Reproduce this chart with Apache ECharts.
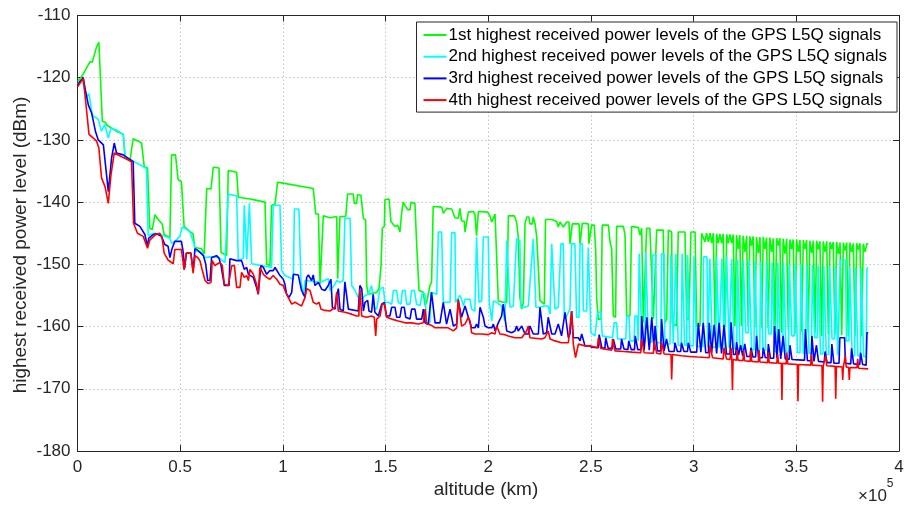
<!DOCTYPE html>
<html><head><meta charset="utf-8">
<script src="https://cdn.jsdelivr.net/npm/echarts@6/dist/echarts.min.js"></script>
<style>html,body{margin:0;padding:0;background:#fff}#c{width:907px;height:510px}</style>
</head><body><div id="c"></div>
<script>
// altitude in thousands of km, power in dBm
const seriesNames = [
  '1st highest received power levels of the GPS L5Q signals',
  '2nd highest received power levels of the GPS L5Q signals',
  '3rd highest received power levels of the GPS L5Q signals',
  '4th highest received power levels of the GPS L5Q signals'
];
const seriesColors = ['#00ff00', '#00ffff', '#0000ff', '#ff0000'];
const xTickStep = 50;   // thousand km (0.5 x 10^5 km)
const yTickStep = 10;   // dBm

const green = [
[0.1,-120.6],[2.3,-119.7],[6.1,-117.4],[7.2,-117.5],[9.3,-115.0],[10.4,-114.3],[12.1,-127.0],[13.7,-127.2],[14.2,-127.6],[15.0,-127.9],[19.5,-128.7],[22.3,-129.1],[23.1,-132.9],[25.5,-133.4],[27.1,-129.8],[29.6,-130.2],[31.2,-130.5],[32.5,-134.3],[34.1,-134.5],[35.2,-144.2],[36.4,-144.4],[37.7,-142.0],[39.3,-142.8],[41.2,-143.5],[42.2,-145.2],[45.0,-145.7],[45.8,-132.4],[47.7,-132.4],[49.0,-136.4],[50.6,-136.7],[51.9,-143.9],[54.7,-144.7],[56.3,-145.1],[57.1,-147.3],
[60.4,-147.5],[61.7,-148.3],[62.9,-137.8],[65.0,-137.9],[66.1,-134.4],[68.9,-134.5],[69.9,-148.1],[72.6,-148.6],[73.4,-134.9],[77.5,-135.2],[78.3,-139.2],[84.0,-139.5],[85.6,-139.6],[91.3,-140.0],[92.1,-150.0],[93.7,-150.2],[94.5,-140.5],[96.2,-140.3],[97.4,-136.8],[99.4,-136.9],[114.8,-137.8],[116.0,-141.9],[117.3,-141.9],[118.1,-153.2],[118.9,-153.0],[119.7,-142.2],[122.9,-142.5],
[126.2,-142.3],[126.7,-152.3],[127.3,-152.1],[127.8,-142.3],[130.6,-142.3],[131.5,-138.7],[134.3,-138.7],[134.8,-140.2],[135.9,-140.2],[136.4,-138.8],[138.0,-138.9],[139.2,-142.6],[140.3,-142.9],[140.8,-153.4],[141.6,-154.8],[142.4,-155.0],[145.7,-154.5],[146.8,-153.9],[147.8,-150.2],[148.4,-144.2],[149.4,-143.9],[149.7,-139.6],[151.7,-139.5],[152.6,-143.1],[154.6,-143.9],[155.9,-143.7],[157.0,-144.8],[157.8,-141.8],[158.6,-140.0],[159.5,-139.9],[160.7,-141.2],[161.9,-141.2],[162.4,-140.0],[164.3,-140.2],[165.1,-146.4],[166.3,-154.2],[168.4,-154.5],[169.2,-156.6],[170.0,-156.1],[171.6,-153.4],[172.4,-152.9],[173.2,-140.7],[177.3,-140.8],[178.1,-141.8],[178.9,-141.9],[179.7,-141.0],[182.2,-141.1],[183.0,-141.2],[183.8,-142.5],[185.4,-142.6],[186.2,-141.0],
[187.0,-143.0],[188.3,-143.1],[188.7,-144.8],[189.5,-145.1],[190.3,-141.6],[192.7,-141.5],[193.5,-141.9],[194.3,-145.4],[194.8,-145.1],[195.2,-141.5],[199.7,-141.6],[200.8,-142.2],[201.7,-143.2],[202.5,-143.2],[203.3,-141.9],[204.1,-142.0],[204.9,-155.9],[207.3,-156.1],[209.0,-156.1],[209.8,-142.2],[212.7,-142.2],[213.8,-143.2],[214.6,-145.6],[215.4,-155.3],[216.3,-157.2],[217.1,-156.1],[217.9,-143.5],[218.7,-142.4],[219.8,-142.4],[220.3,-143.5],[221.5,-143.5],[221.9,-142.4],[222.8,-143.5],[223.6,-145.6],[224.4,-145.6],[225.2,-155.9],[226.3,-156.1],[227.3,-156.4],[227.9,-142.8],[230.9,-142.8],[231.7,-143.0],[233.3,-143.1],[234.1,-144.0],[234.9,-143.2],[235.7,-143.1],[236.6,-144.0],[237.4,-144.1],[238.2,-143.2],[239.3,-143.2],[239.8,-146.7],[240.6,-146.7],[240.9,-143.5],[244.2,-143.5],[244.7,-146.7],[245.5,-146.7],[245.8,-143.4],[248.7,-143.5],[249.0,-146.7],
[250.3,-143.7],[251.6,-143.7],[252.3,-147.5],[252.8,-155.6],[253.6,-158.8],[254.9,-158.8],[255.5,-143.7],[258.5,-143.7],[259.3,-146.4],[260.1,-147.5],[260.9,-158.3],[262.0,-158.5],[262.5,-143.9],[265.8,-143.9],[266.6,-145.3],[267.4,-158.3],[269.0,-158.3],[269.8,-143.9],[273.1,-144.1],[273.9,-145.3],[274.7,-144.2],[275.5,-159.4],[276.3,-159.4],[277.1,-144.2],[278.7,-144.2],[279.6,-144.5],[280.4,-158.8],[281.2,-158.8],[282.0,-144.5],[285.2,-144.5],[286.0,-159.4],[286.9,-158.8],[287.7,-144.5],[289.3,-144.8],[289.6,-159.4],[291.7,-159.9],[292.5,-144.8],[295.8,-144.8],[296.6,-158.8],[297.7,-158.8],[298.7,-144.8],[300.7,-144.8],[301.5,-159.9],[303.1,-159.9],[303.9,-145.0],[305.5,-146.4],[306.3,-145.0],[307.2,-146.4],[308.0,-145.0],[308.8,-146.6],[309.6,-145.0],[310.4,-159.9],[311.2,-145.1],[312.0,-146.6],[312.8,-145.1],[313.6,-146.6],[314.4,-145.1],[315.3,-160.0],[316.1,-145.2],[316.9,-146.6],[317.7,-145.2],
[318.5,-146.6],[319.3,-145.2],[320.1,-159.9],[320.9,-145.3],[321.7,-147.5],[322.5,-145.3],[323.3,-159.9],[324.1,-145.4],[325.0,-148.0],[325.8,-145.4],[326.6,-160.0],[327.4,-145.5],[328.2,-147.0],[329.0,-145.5],[329.8,-160.2],[330.6,-145.6],[331.5,-148.2],[332.3,-145.6],[333.1,-160.2],[333.9,-145.6],[334.7,-147.5],[335.5,-145.7],[336.3,-160.3],[337.1,-145.7],[338.0,-148.0],[338.8,-145.8],[339.6,-160.4],[340.4,-145.8],[341.2,-147.0],[342.0,-145.8],[342.8,-161.0],[343.6,-145.9],[344.5,-148.3],[345.3,-145.9],[346.1,-160.6],[346.9,-146.0],[347.7,-147.5],[348.5,-146.0],[349.3,-161.2],[350.1,-146.0],[351.0,-148.0],[351.8,-146.1],[352.6,-160.8],[353.4,-146.1],[354.2,-147.5],[355.0,-146.1],[355.8,-160.9],[356.6,-146.2],[357.5,-148.2],[358.3,-146.2],[359.1,-161.0],[359.9,-146.2],[360.7,-147.6],[361.5,-146.3],[362.3,-161.5],[363.1,-146.3],[364.0,-148.0],[364.8,-146.3],[365.6,-161.2],[366.4,-146.4],[367.2,-147.5],[368.0,-146.4],[368.8,-161.3],[369.6,-146.4],[370.5,-148.3],[371.3,-146.5],[372.1,-161.4],[372.9,-146.5],[373.7,-147.8],[374.5,-146.5],[375.3,-161.5],[376.1,-146.5],[377.0,-148.0],[377.8,-146.6],[378.6,-161.5],[379.4,-146.6],[380.2,-147.6],[381.0,-146.6],[381.8,-161.6],[382.6,-146.7],[383.5,-148.0],[384.3,-146.7],[385.0,-146.7]
];

const cyan = [
[0.1,-121.0],[2.0,-120.2],[2.8,-119.9],[4.5,-123.0],[5.6,-122.6],[6.1,-122.5],[7.2,-126.0],[10.1,-126.7],[11.7,-128.6],[13.3,-127.5],[14.2,-127.5],[15.0,-129.7],[16.3,-128.1],[19.5,-128.5],[22.3,-129.2],[23.3,-132.8],[27.1,-133.4],[32.5,-134.4],[33.6,-134.6],[34.4,-145.3],[35.2,-145.6],[37.7,-145.0],[41.0,-145.3],[45.0,-145.8],[45.8,-146.6],[47.4,-146.3],[49.8,-145.5],[51.0,-144.0],[52.2,-144.2],[54.7,-144.7],[56.8,-146.8],
[57.2,-147.8],[60.4,-148.1],[62.1,-148.9],[64.5,-148.8],[68.6,-148.9],[71.8,-149.7],[72.6,-149.9],[73.4,-138.7],[77.5,-139.0],[78.3,-149.4],[80.7,-149.0],[81.2,-140.5],[81.9,-140.5],[82.4,-149.2],[83.2,-149.4],[83.7,-140.2],[84.5,-140.2],[84.8,-149.9],[89.7,-150.2],[94.5,-150.5],[95.3,-140.5],[98.6,-140.5],[99.4,-151.0],[101.0,-151.8],[105.1,-152.4],[105.6,-141.1],[107.8,-141.1],[108.8,-152.6],[110.0,-155.0],[110.8,-152.6],[118.1,-152.9],[122.1,-152.3],[122.9,-154.2],
[123.7,-153.9],[125.0,-153.4],[126.2,-152.6],[127.8,-152.9],[129.4,-152.6],[130.2,-142.6],[132.7,-142.6],[133.5,-153.4],[135.1,-154.2],[136.7,-155.3],[138.4,-155.6],[140.0,-155.0],[141.6,-154.8],[143.2,-153.4],[144.5,-156.9],[145.7,-157.2],[147.3,-153.9],[148.9,-153.7],[149.7,-156.1],[151.3,-156.1],[153.0,-156.4],[153.8,-154.2],[155.4,-154.2],[156.2,-156.1],[157.5,-156.4],[158.2,-154.2],[159.5,-154.2],[160.3,-156.4],[161.9,-156.4],[162.7,-154.2],[164.0,-154.2],[165.1,-156.4],[166.8,-156.6],[167.9,-154.5],[169.2,-154.8],[170.0,-159.6],[171.6,-159.4],[172.1,-154.5],[174.9,-154.8],[175.7,-144.8],[177.3,-144.8],[178.1,-156.1],[181.4,-156.1],[182.2,-144.9],[183.8,-144.9],[184.1,-156.1],[186.2,-155.0],
[187.0,-155.6],[187.9,-156.7],[188.7,-155.6],[191.1,-155.6],[191.9,-157.2],[193.5,-157.5],[194.3,-145.6],[195.2,-145.6],[195.5,-156.1],[196.8,-155.9],[197.6,-145.6],[200.0,-145.6],[200.5,-156.1],[201.7,-159.1],[202.5,-155.9],[204.1,-156.1],[204.9,-156.4],[206.5,-156.7],[207.3,-156.7],[208.1,-159.1],[209.0,-146.2],[209.8,-146.2],[210.6,-156.9],[212.2,-156.7],[213.0,-156.7],[213.8,-145.9],[215.4,-146.2],[215.9,-156.9],[217.9,-156.9],[219.5,-156.7],[220.3,-156.7],[221.9,-145.9],[222.8,-145.9],[223.2,-156.9],[225.2,-156.9],[226.8,-156.7],[229.2,-156.7],[230.1,-158.0],[230.9,-146.7],[231.7,-146.7],[232.5,-157.2],[234.1,-156.9],[235.4,-146.7],[236.6,-146.7],[237.0,-158.5],[238.2,-158.3],[239.8,-157.2],[240.6,-146.7],[242.2,-146.7],[243.0,-158.5],[244.2,-158.5],[244.7,-146.7],[245.8,-146.7],[246.3,-157.5],[247.9,-157.5],[248.7,-147.3],[249.5,-147.3],
[250.0,-161.0],[252.0,-161.5],[253.2,-157.7],[254.9,-157.7],[255.5,-161.5],[260.5,-161.8],[261.3,-159.4],[262.5,-159.4],[263.0,-162.0],[267.0,-162.0],[267.4,-158.3],[268.6,-158.3],[269.0,-162.3],[271.0,-162.3],[271.4,-158.3],[272.5,-158.3],[273.0,-162.3],[273.5,-148.3],[274.4,-148.3],[274.8,-162.3],[276.3,-162.5],[276.7,-148.0],[277.5,-148.0],[278.0,-162.5],[279.6,-162.5],[280.0,-148.5],[281.6,-148.5],[282.0,-162.6],[284.0,-162.6],[284.4,-148.3],[285.6,-148.3],[286.0,-162.8],[288.5,-162.8],[288.9,-148.5],[289.7,-148.5],[290.1,-162.8],[290.9,-162.8],[291.3,-148.3],[292.1,-148.3],[292.5,-163.0],[294.0,-163.0],[294.4,-148.3],[295.2,-148.3],[295.6,-163.0],[296.6,-163.0],[297.0,-148.5],[297.8,-148.5],[298.2,-163.1],[299.8,-163.1],[300.2,-148.8],[301.0,-148.8],[301.4,-163.2],[304.5,-163.2],[304.9,-148.8],[306.5,-148.8],[306.9,-163.3],[307.5,-163.3],[307.9,-149.1],[308.7,-149.1],[309.1,-163.3],[310.8,-163.3],[311.2,-148.8],[312.0,-148.8],[312.4,-163.4],[313.3,-163.4],[313.7,-149.1],[314.5,-149.1],[314.9,-163.4],[315.7,-163.4],[316.1,-148.8],[316.9,-148.8],[317.3,-163.4],
[317.7,-163.4],[318.5,-149.2],[319.3,-149.2],[319.7,-163.5],[321.0,-163.5],[321.4,-149.3],[322.2,-149.3],[322.6,-163.6],[323.8,-163.6],[324.2,-149.4],[325.0,-149.4],[325.4,-161.0],[326.6,-161.0],[327.0,-149.4],[327.8,-149.4],[328.2,-163.7],[329.4,-163.7],[329.8,-149.5],[330.6,-149.5],[331.0,-163.8],[332.2,-163.8],[332.6,-149.6],[333.4,-149.6],[333.8,-163.8],[335.0,-163.8],[335.4,-149.6],[336.2,-149.6],[336.6,-161.2],[337.8,-161.2],[338.2,-149.7],[339.0,-149.7],[339.4,-164.0],[340.6,-164.0],[341.0,-149.8],[341.8,-149.8],[342.2,-164.0],[343.4,-164.0],[343.8,-149.8],[344.6,-149.8],[345.0,-164.1],[346.2,-164.1],[346.6,-149.9],[347.4,-149.9],[347.8,-161.5],[349.0,-161.5],[349.4,-150.0],[350.2,-150.0],[350.6,-164.2],[351.8,-164.2],[352.2,-150.0],[353.0,-150.0],[353.4,-164.3],[354.6,-164.3],[355.0,-150.1],[355.8,-150.1],[356.2,-164.3],[357.4,-164.3],[357.8,-150.1],[358.6,-150.1],[359.0,-161.8],[360.2,-161.8],[360.6,-150.2],[361.4,-150.2],[361.8,-164.4],[363.0,-164.4],[363.4,-150.2],[364.2,-150.2],[364.6,-164.5],[365.8,-164.5],[366.2,-150.3],[367.0,-150.3],[367.4,-162.0],[368.6,-162.0],[369.0,-150.3],[369.8,-150.3],[370.2,-164.6],[371.0,-164.6],[371.4,-149.3],[374.0,-149.3],[374.4,-162.3],[375.6,-162.3],[376.0,-150.4],[376.8,-150.4],[377.2,-164.7],[378.4,-164.7],[378.8,-150.5],[379.6,-150.5],[380.0,-164.7],[381.2,-164.7],[381.6,-150.6],[382.4,-150.6],[382.8,-164.8],[384.0,-164.8],[384.4,-150.6],[385.0,-150.6]
];

const blue = [
[0.1,-121.2],[1.2,-120.6],[2.8,-120.0],[4.0,-122.3],[5.3,-124.4],[6.9,-125.7],[7.7,-126.0],[8.8,-128.7],[10.1,-130.0],[12.6,-130.8],[13.4,-131.1],[15.0,-138.3],[16.6,-132.9],[17.9,-130.5],[19.0,-132.1],[19.8,-132.1],[22.3,-132.4],[27.1,-133.5],[27.9,-143.4],[30.4,-143.9],[32.8,-145.2],[34.1,-147.1],[34.7,-145.8],[36.9,-145.2],[38.5,-145.1],[40.9,-145.5],[42.5,-146.8],[44.1,-147.1],[45.0,-148.9],[46.1,-147.4],[47.4,-146.3],[50.6,-146.3],[51.4,-147.9],[52.2,-150.6],[53.0,-148.2],[55.2,-148.2],[56.3,-151.1],
[57.2,-147.5],[58.8,-147.8],[61.3,-148.6],[62.4,-149.9],[63.4,-152.6],[64.5,-152.6],[65.3,-148.9],[67.7,-148.6],[68.9,-149.0],[69.9,-150.2],[70.5,-150.2],[71.5,-153.4],[73.8,-153.4],[74.2,-149.1],[77.5,-149.4],[79.9,-149.4],[81.2,-150.8],[82.4,-150.5],[83.2,-151.6],[84.0,-151.3],[85.6,-152.1],[87.2,-153.7],[88.0,-154.8],[89.3,-150.2],[90.5,-150.5],[92.1,-151.6],[93.7,-151.0],[95.3,-151.0],[96.2,-150.5],[97.0,-150.8],[98.6,-151.8],[100.2,-152.4],[101.0,-153.2],[101.8,-154.8],[103.0,-155.3],[104.3,-154.5],[105.1,-151.6],[107.5,-151.7],[109.1,-154.2],[110.8,-155.3],[111.6,-152.1],[112.4,-151.7],[114.0,-152.6],[114.8,-151.7],[115.6,-153.4],[117.3,-152.9],[118.9,-154.0],[120.5,-154.2],[122.1,-153.4],[122.9,-153.7],
[123.4,-152.4],[124.1,-156.9],[125.4,-157.2],[126.2,-155.0],[127.0,-153.9],[127.8,-157.2],[129.4,-157.5],[130.2,-152.8],[131.0,-152.9],[131.9,-157.2],[136.7,-157.5],[137.5,-153.4],[138.4,-153.9],[139.2,-157.5],[140.0,-156.1],[141.3,-155.8],[141.9,-157.5],[143.2,-157.7],[144.0,-154.8],[144.8,-157.7],[146.5,-158.3],[148.1,-156.4],[149.4,-156.1],[150.5,-158.3],[152.1,-158.3],[153.0,-156.9],[154.6,-156.9],[155.4,-158.5],[157.0,-158.5],[157.8,-156.9],[159.1,-156.9],[159.8,-158.5],[161.9,-158.8],[162.7,-157.2],[164.3,-157.2],[165.1,-158.8],[167.6,-158.8],[168.4,-157.2],[169.2,-159.4],[170.8,-159.6],[172.4,-154.5],[173.2,-154.8],[174.1,-159.4],[176.5,-159.4],[178.1,-156.1],[178.9,-156.4],[179.7,-159.6],[181.4,-157.2],[182.2,-157.2],[183.0,-159.9],[184.6,-159.6],[185.4,-155.8],[186.2,-156.1],
[187.0,-158.5],[188.7,-156.7],[189.5,-156.7],[190.3,-158.5],[191.1,-158.8],[191.9,-160.2],[192.7,-160.4],[193.5,-160.2],[194.3,-159.6],[195.2,-160.2],[196.0,-156.9],[196.8,-157.2],[197.6,-158.5],[198.4,-159.9],[200.0,-160.2],[201.7,-160.2],[202.5,-159.6],[203.3,-160.7],[204.9,-159.4],[205.7,-159.6],[206.5,-158.3],[207.3,-156.4],[208.1,-156.4],[209.0,-160.7],[211.4,-161.0],[213.0,-160.7],[213.8,-159.9],[214.6,-160.7],[216.3,-159.9],[217.1,-159.6],[217.9,-161.2],[219.5,-161.2],[220.3,-159.9],[221.1,-160.2],[221.9,-161.2],[224.4,-161.2],[225.2,-156.9],[226.0,-157.0],[226.8,-161.2],[228.4,-161.0],[229.2,-158.5],[230.1,-158.8],[230.9,-161.2],[232.5,-161.2],[234.1,-159.6],[234.9,-159.6],[235.7,-161.5],[237.4,-157.7],[238.2,-158.0],[239.0,-161.8],[239.8,-161.2],[240.6,-157.5],[241.4,-161.8],[243.9,-161.8],[244.7,-162.3],[245.5,-161.2],[246.3,-161.0],[247.1,-163.1],[248.7,-163.1],[249.5,-162.8],
[250.3,-163.3],[253.6,-163.4],[254.0,-161.3],[254.9,-161.3],[255.3,-163.4],[256.8,-163.5],[257.2,-161.8],[258.0,-161.8],[258.4,-163.5],[260.5,-163.5],[260.9,-162.0],[261.7,-162.0],[262.1,-163.6],[264.5,-163.6],[264.9,-162.0],[265.7,-162.0],[266.1,-163.6],[268.0,-163.7],[268.4,-162.3],[269.2,-162.3],[269.6,-163.7],[271.2,-163.7],[271.6,-161.5],[272.4,-161.5],[272.8,-163.7],[274.4,-163.7],[274.7,-158.3],[275.5,-158.3],[275.9,-163.8],[276.8,-163.8],[277.2,-158.5],[278.0,-158.5],[278.4,-163.8],[279.2,-163.8],[279.6,-158.5],[280.4,-158.5],[280.8,-163.8],[281.2,-159.9],[282.0,-159.9],[282.4,-163.9],[284.0,-163.9],[284.4,-158.8],[285.2,-158.8],[285.6,-163.9],[286.4,-163.9],[286.8,-162.0],[287.6,-162.0],[288.0,-164.0],[290.5,-164.0],[290.9,-162.6],[291.7,-162.6],[292.1,-164.0],[293.7,-164.0],[294.1,-162.6],[294.9,-162.6],[295.3,-164.0],[297.0,-164.0],[297.4,-162.6],[298.2,-162.6],[298.6,-164.1],[301.5,-164.1],[302.3,-159.4],[303.1,-159.4],[303.5,-164.1],[304.3,-164.1],[304.7,-159.4],[305.5,-159.4],[305.9,-164.2],[307.2,-164.2],[307.6,-159.4],[308.4,-159.4],[308.8,-164.2],[309.6,-164.2],[310.0,-159.7],[310.8,-159.7],[311.2,-164.3],[312.0,-164.3],[312.4,-159.4],[313.2,-159.4],[313.6,-164.3],[314.4,-164.3],[314.8,-159.7],[315.6,-159.7],[316.0,-164.4],[317.7,-164.4],
[318.2,-159.3],[319.0,-159.3],[319.4,-164.5],[320.5,-164.5],[320.9,-162.5],[321.5,-162.5],[321.9,-164.6],[322.5,-164.6],[322.9,-163.0],[323.5,-163.0],[323.9,-164.7],[324.5,-164.7],[324.9,-162.8],[325.5,-162.8],[325.9,-164.8],[327.5,-164.8],[327.9,-163.4],[328.5,-163.4],[328.9,-164.9],[330.2,-164.9],[330.6,-161.5],[331.2,-161.5],[331.6,-165.0],[333.5,-165.0],[333.9,-163.4],[334.5,-163.4],[334.9,-165.0],[336.0,-165.0],[336.4,-162.8],[337.0,-162.8],[337.4,-165.1],[339.0,-165.1],[339.4,-159.9],[340.2,-159.9],[340.6,-165.1],[341.0,-165.1],[341.4,-160.4],[342.0,-160.4],[342.4,-165.2],[343.2,-165.2],[343.6,-161.5],[344.2,-161.5],[344.6,-165.2],[346.5,-165.3],[346.9,-163.0],[347.5,-163.0],[347.9,-165.3],[353.0,-165.4],[354.0,-165.4],[354.4,-160.4],[355.0,-160.4],[355.4,-165.5],[357.2,-165.5],[357.6,-161.5],[358.2,-161.5],[358.6,-165.6],[359.4,-165.6],[359.8,-163.0],[360.4,-163.0],[360.8,-165.6],[363.6,-165.7],[364.0,-164.0],[364.6,-164.0],[365.0,-165.8],[366.9,-165.8],[367.3,-162.8],[367.9,-162.8],[368.3,-165.9],[370.8,-165.9],[371.2,-161.8],[373.5,-161.8],[373.9,-165.9],[376.5,-166.0],[376.9,-163.5],[377.5,-163.5],[377.9,-166.0],[380.9,-166.1],[381.3,-164.2],[381.9,-164.2],[382.3,-166.1],[384.0,-166.2],[384.4,-161.0],[385.0,-161.0]
];

const red = [
[0.1,-121.4],[1.2,-120.9],[2.8,-120.1],[4.0,-123.9],[5.6,-129.1],[7.7,-129.7],[9.3,-130.2],[10.4,-131.3],[11.7,-136.1],[13.4,-137.5],[15.0,-140.2],[16.3,-135.6],[17.9,-132.1],[21.5,-132.7],[24.7,-133.2],[26.3,-133.5],[27.3,-143.4],[29.2,-145.0],[32.0,-145.5],[34.1,-147.4],[35.2,-146.1],[37.7,-145.3],[40.1,-145.0],[41.2,-145.8],[42.2,-148.2],[44.1,-149.3],[46.6,-149.9],[47.4,-147.6],[50.6,-147.6],[51.9,-150.9],[53.0,-148.2],[55.2,-148.2],[56.3,-151.4],
[57.2,-148.6],[58.5,-148.9],[59.6,-149.4],[60.8,-151.0],[62.1,-152.6],[63.7,-153.1],[65.0,-152.9],[65.6,-149.4],[66.9,-150.2],[68.2,-149.9],[69.4,-149.7],[70.5,-150.2],[71.5,-153.2],[73.4,-153.4],[74.2,-153.7],[75.1,-150.2],[76.4,-150.2],[77.5,-153.7],[79.1,-153.7],[79.9,-151.3],[81.2,-152.1],[82.4,-151.8],[83.2,-152.6],[84.0,-150.8],[85.6,-151.6],[87.2,-153.2],[88.0,-154.8],[88.8,-150.5],[90.5,-151.6],[92.1,-152.1],[93.7,-152.4],[95.3,-151.8],[97.0,-152.4],[98.6,-153.2],[100.2,-153.4],[101.0,-154.2],[102.6,-155.3],[104.3,-156.4],[105.9,-156.1],[107.5,-156.4],[109.1,-156.7],[110.8,-155.3],[111.6,-153.9],[113.2,-154.2],[114.8,-156.1],[116.4,-156.4],[117.6,-156.1],[118.6,-157.2],[120.5,-157.4],[122.9,-157.5],
[123.7,-157.7],[125.4,-156.9],[126.2,-154.5],[127.0,-157.5],[130.2,-157.7],[133.5,-158.0],[135.9,-158.3],[137.0,-158.3],[137.5,-154.0],[138.4,-158.3],[140.8,-158.5],[143.2,-158.3],[144.5,-158.5],[145.2,-161.5],[145.7,-158.8],[147.3,-158.3],[148.4,-156.4],[149.4,-156.4],[150.5,-158.5],[153.0,-158.8],[156.2,-159.1],[159.5,-159.4],[162.7,-159.4],[166.0,-159.6],[168.4,-159.4],[169.2,-157.2],[170.0,-159.6],[172.4,-159.8],[174.1,-160.2],[177.3,-160.2],[180.5,-160.2],[183.0,-160.7],[184.6,-160.2],[185.4,-155.6],[186.2,-155.3],
[187.0,-159.9],[188.7,-159.6],[190.3,-158.5],[191.1,-159.1],[191.9,-161.0],[193.5,-161.2],[196.8,-161.2],[200.0,-161.3],[201.7,-161.0],[203.3,-161.2],[204.1,-159.9],[204.9,-160.2],[205.7,-161.2],[208.1,-161.3],[209.8,-161.5],[213.0,-161.8],[216.3,-161.8],[218.7,-160.7],[219.5,-159.9],[220.3,-161.8],[226.0,-162.0],[227.6,-161.8],[229.2,-160.7],[230.1,-162.0],[232.5,-162.3],[235.7,-162.6],[239.0,-162.6],[240.6,-157.5],[241.4,-162.8],[242.5,-165.0],[243.9,-162.8],[247.1,-163.1],[249.5,-163.1],
[250.0,-163.3],[253.2,-163.4],[253.6,-161.8],[254.4,-161.8],[254.8,-163.5],[260.1,-163.8],[260.5,-162.0],[261.3,-162.0],[261.7,-163.9],[266.0,-164.0],[270.0,-164.1],[274.3,-164.2],[274.7,-162.0],[275.5,-162.0],[275.9,-164.2],[280.4,-164.3],[280.8,-162.3],[281.6,-162.3],[282.0,-164.3],[284.0,-164.4],[284.4,-162.5],[285.2,-162.5],[285.6,-164.4],[289.0,-164.5],[289.3,-168.5],[289.7,-164.5],[294.0,-164.7],[298.0,-164.8],[302.0,-164.9],[307.6,-165.0],[308.0,-163.0],[308.8,-163.0],[309.2,-165.0],[314.4,-165.2],[314.8,-163.4],[315.6,-163.4],[316.0,-165.2],[317.7,-165.3],
[318.3,-163.4],[318.6,-165.3],[318.9,-170.2],[319.2,-165.3],[320.9,-165.4],[321.2,-163.8],[321.6,-165.4],[324.0,-165.5],[324.4,-163.8],[324.8,-165.5],[327.5,-165.6],[327.9,-163.8],[328.3,-165.6],[331.5,-165.7],[331.9,-163.8],[332.3,-165.7],[336.0,-165.8],[336.4,-164.1],[336.8,-165.8],[340.5,-165.9],[340.9,-164.4],[341.3,-165.9],[342.7,-165.9],[343.0,-171.8],[343.3,-165.9],[345.0,-166.0],[345.4,-164.2],[345.8,-166.0],[350.5,-166.1],[350.8,-172.0],[351.1,-166.1],[357.0,-166.2],[357.4,-164.4],[357.8,-166.2],[362.5,-166.3],[362.8,-172.1],[363.1,-166.3],[364.0,-166.3],[364.4,-164.7],[364.8,-166.3],[368.9,-166.4],[369.2,-171.6],[369.5,-166.4],[372.3,-166.5],[372.6,-168.6],[372.9,-166.5],[373.5,-166.5],[373.9,-164.7],[374.3,-166.5],[375.5,-166.6],[375.8,-168.6],[376.1,-166.6],[379.5,-166.6],[379.9,-165.2],[380.3,-166.7],[385.0,-166.8]
];

const seriesData = [green, cyan, blue, red];

const FONT = '"Liberation Sans", Arial, Helvetica, sans-serif';
const AX = '#262626';

const chart = echarts.init(document.getElementById('c'), null, {renderer: 'canvas'});
const baseX = {
  type: 'value', min: 0, max: 400, interval: xTickStep,
  axisLine: {show: true, onZero: false, lineStyle: {color: AX, width: 1}},
  axisTick: {show: true, inside: true, length: 6, lineStyle: {color: AX}}
};
const baseY = {
  type: 'value', min: -180, max: -110, interval: yTickStep,
  axisLine: {show: true, onZero: false, lineStyle: {color: AX, width: 1}},
  axisTick: {show: true, inside: true, length: 6, lineStyle: {color: AX}}
};
const gridLine = {show: true, lineStyle: {color: '#c4c4c4', type: [1.5, 2.5], width: 1}};
chart.setOption({
  animation: false,
  backgroundColor: '#ffffff',
  grid: {left: 77.5, right: 8, top: 15.5, bottom: 59, containLabel: false},
  xAxis: [
    Object.assign({}, baseX, {
      position: 'bottom',
      axisLabel: {formatter: v => String(v / 100), fontSize: 17, color: AX, margin: 8, fontFamily: FONT},
      splitLine: gridLine
    }),
    Object.assign({}, baseX, {position: 'top', axisLabel: {show: false}, splitLine: {show: false}})
  ],
  yAxis: [
    Object.assign({}, baseY, {
      position: 'left',
      axisLabel: {fontSize: 17, color: AX, margin: 7, fontFamily: FONT},
      splitLine: gridLine
    }),
    Object.assign({}, baseY, {position: 'right', axisLabel: {show: false}, splitLine: {show: false}})
  ],
  legend: {
    data: seriesNames.map((n, i) => ({name: n, icon: 'rect', itemStyle: {color: seriesColors[i]}})),
    orient: 'vertical',
    right: 10, top: 22,
    backgroundColor: '#ffffff',
    borderColor: AX, borderWidth: 1, borderRadius: 0,
    padding: [3, 10, 2, 7],
    itemWidth: 23, itemHeight: 2, itemGap: 1.7,
    textStyle: {fontSize: 17, lineHeight: 20, color: '#000', fontFamily: FONT, padding: [0, 0, 0, -3]}
  },
  series: seriesNames.map((name, i) => ({
    name: name, type: 'line', data: seriesData[i],
    xAxisIndex: 0, yAxisIndex: 0,
    symbol: 'none', showSymbol: false,
    lineStyle: {color: seriesColors[i], width: 1.6},
    itemStyle: {color: seriesColors[i]},
    z: 2 + i
  })),
  graphic: [
    {type: 'text', x: 486, y: 490, style: {text: 'altitude (km)', font: '19px ' + FONT, fill: AX, textAlign: 'center', textVerticalAlign: 'middle'}},
    {type: 'text', x: 21, y: 245, rotation: Math.PI / 2, style: {text: 'highest received power level (dBm)', font: '19px ' + FONT, fill: AX, textAlign: 'center', textVerticalAlign: 'middle'}},
    {type: 'text', x: 858, y: 478, style: {text: '{a|\u00d710}{b|5}', fill: AX, rich: {a: {fontSize: 17, fontFamily: FONT, color: AX, padding: [10, 0, 0, 0]}, b: {fontSize: 12, fontFamily: FONT, color: AX, verticalAlign: 'top', padding: [0, 0, 10, 0]}}}}
  ]
});
</script></body></html>
